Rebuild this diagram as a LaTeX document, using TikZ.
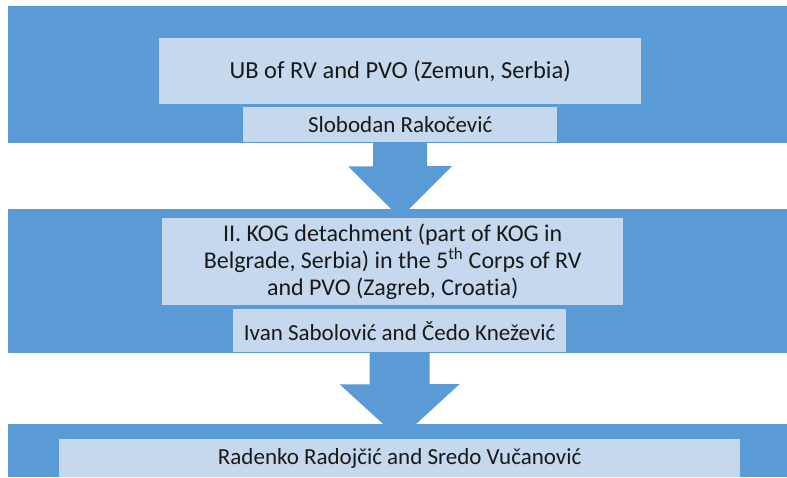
\documentclass[tikz,border=0pt]{standalone}
\usepackage{fontspec}
\setmainfont{Carlito}[Ligatures=NoCommon]
\usepackage{xcolor}
\usepackage{tikz}
\usetikzlibrary{positioning,calc}
\definecolor{bandblue}{RGB}{91,155,213}
\definecolor{boxblue}{RGB}{197,216,238}
\definecolor{inkgrey}{RGB}{25,25,25}

\begin{document}
\begin{tikzpicture}[x=1pt,y=-1pt,
    band/.style={fill=bandblue, inner sep=0pt, anchor=north west},
    unitbox/.style={fill=boxblue, text=inkgrey, inner sep=0pt, anchor=north west,
        align=center, font=\fontsize{24.5}{26.7}\selectfont},
    namebox/.style={unitbox, font=\fontsize{23}{26}\selectfont}]
    \useasboundingbox (0,0) rectangle (787,477);

    % Background bands
    \node[band, minimum width=779, minimum height=137] (band1) at (8,6) {};
    \node[band, minimum width=779, minimum height=144] (band2) at (8,209) {};
    \node[band, minimum width=779, minimum height=53] (band3) at (8,424) {};

    % Level 1
    \node[unitbox, minimum width=482, minimum height=66] (zemun) at (159,38)
        {UB of RV and PVO (Zemun, Serbia)};
    \node[namebox, minimum width=314, minimum height=35] (slobodan) at (243,107)
        {Slobodan Rakočević};

    % Level 2
    \node[unitbox, minimum width=461, minimum height=87, font=\fontsize{24}{26.7}\selectfont]
        (kog) at (162,218)
        {II. KOG detachment (part of KOG in\\
         Belgrade, Serbia) in the 5\textsuperscript{th} Corps of RV\\
         and PVO (Zagreb, Croatia)};
    \node[namebox, minimum width=333, minimum height=43] (ivan) at (233,309)
        {Ivan Sabolović and Čedo Knežević};

    % Level 3
    \node[namebox, minimum width=681, minimum height=38] (radenko) at (59,439)
        {Radenko Radojčić and Sredo Vučanović};

    % Block arrows
    \fill[bandblue] (slobodan.south) ++(-27,0) -- ++(0,24) -- ++(-25,0)
        -- (kog.north -| slobodan.south) -- ++(52,-52) -- ++(-25,0)
        -- ++(0,-24) -- cycle;
    \fill[bandblue] (ivan.south) ++(-30,0) -- ++(0,32) -- ++(-30,0)
        -- (radenko.north) -- ++(60,-55) -- ++(-30,0)
        -- ++(0,-32) -- cycle;
\end{tikzpicture}
\end{document}
